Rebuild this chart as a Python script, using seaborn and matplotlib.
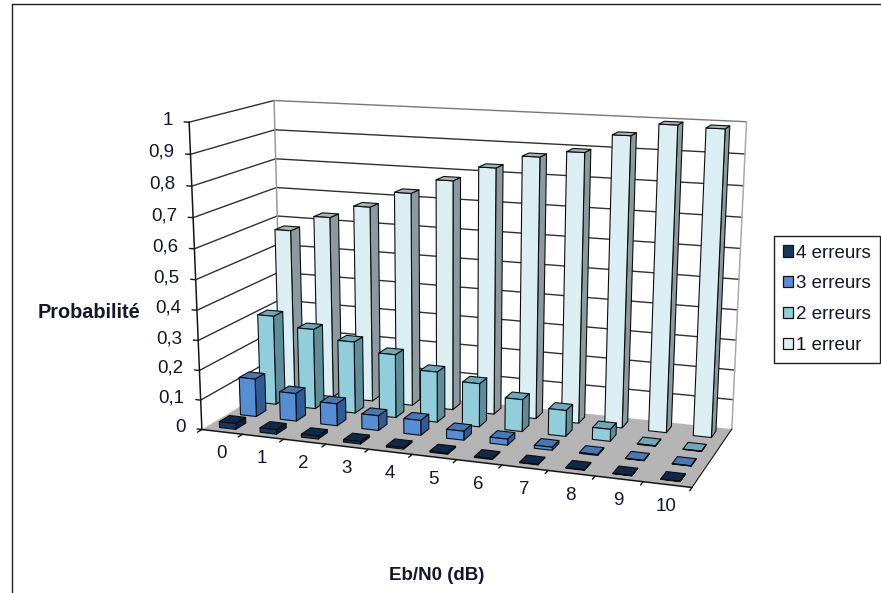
import numpy as np
import matplotlib
matplotlib.use("Agg")
import matplotlib.pyplot as plt
from matplotlib.lines import Line2D
from matplotlib.patches import Patch
from mpl_toolkits.mplot3d.art3d import Poly3DCollection
import seaborn as sns

# ---- data -------------------------------------------------------------
categories = ["0", "1", "2", "3", "4", "5", "6", "7", "8", "9", "10"]
err1 = [0.575, 0.63, 0.675, 0.73, 0.78, 0.83, 0.873, 0.895, 0.955, 0.995, 0.99]
err2 = [0.31, 0.277, 0.247, 0.217, 0.172, 0.147, 0.108, 0.087, 0.04, 0.002, 0.001]
err3 = [0.13, 0.095, 0.075, 0.05, 0.05, 0.03, 0.02, 0.01, 0.003, 0.001, 0.001]
err4 = [0.02, 0.015, 0.01, 0.008, 0.005, 0.004, 0.003, 0.002, 0.002, 0.001, 0.001]
series_names = ["4 erreurs", "3 erreurs", "2 erreurs", "1 erreur"]
series_values = [err4, err3, err2, err1]
z_ticks = [0, 0.1, 0.2, 0.3, 0.4, 0.5, 0.6, 0.7, 0.8, 0.9, 1]
z_labels = ["0", "0,1", "0,2", "0,3", "0,4", "0,5", "0,6", "0,7", "0,8", "0,9", "1"]

# ---- style ------------------------------------------------------------
sns.set_theme(style="white")
plt.rcParams["font.family"] = ["Liberation Sans", "DejaVu Sans"]
W_PX, H_PX = 881, 593
TXT = "#14142c"
FS = 13.5
front = sns.color_palette(["#17375E", "#558ED5", "#92CDDC", "#DBEEF4"])
top = sns.color_palette(["#10294A", "#4877B5", "#6FA9B8", "#A3B6BB"])
side = sns.color_palette(["#0D2040", "#2F5C96", "#5C8D99", "#8A9A9E"])
FLOOR = "#B4B4B4"
BAR_W = 0.40
BAR_D = 0.48

# ---- perspective of the chart box (x cells, y series cells, z value) ---
nx, ny = len(categories), len(series_names)
anchors = [
    ((0, 0, 0), (203, 427)), ((0, 0, .2), (200, 369)), ((0, 0, .4), (197, 310)),
    ((0, 0, .5), (195, 280)), ((0, 0, 1), (188, 123)), ((0, ny, 0), (281, 386)),
    ((0, ny, .5), (278, 243)), ((0, ny, 1), (275, 100)), ((nx, 0, 0), (692, 491)),
    ((nx, ny, 0), (732, 427)), ((nx, ny, .2), (734, 368)), ((nx, ny, .5), (739, 279)),
    ((nx, ny, 1), (747, 123)),
]
rows, rhs = [], []
for (x, y, z), (u, v) in anchors:
    rows.append([x, y, z, 1, 0, 0, 0, 0, -u * x, -u * y, -u * z]); rhs.append(u)
    rows.append([0, 0, 0, 0, x, y, z, 1, -v * x, -v * y, -v * z]); rhs.append(v)
sol = np.linalg.lstsq(np.array(rows, float), np.array(rhs, float), rcond=None)[0]
P = np.append(sol, 1.0).reshape(3, 4)


def to_px(x, y, z):
    h = P @ np.array([x, y, z, 1.0])
    return h[0] / h[2], h[1] / h[2]


fig = plt.figure(figsize=(W_PX / 100, H_PX / 100), dpi=100, facecolor="white")
ax = fig.add_axes([0, -(W_PX - H_PX) / 2 / H_PX, 1, W_PX / H_PX], projection="3d",
                  computed_zorder=False)
ax.set_axis_off()
ax.patch.set_alpha(0)


def fixed_proj():
    ax.apply_aspect()
    F = np.array([[1, 0, 0], [0, -1, H_PX], [0, 0, 1.0]])
    Q = ax.transData.inverted().get_matrix() @ F @ P
    depth = np.array([-0.01, 0.05, -0.01, -1.0])
    return np.vstack([Q[0], Q[1], depth, Q[2]])


ax.get_proj = fixed_proj

# floor
ax.add_collection3d(Poly3DCollection([[(0, 0, 0), (nx, 0, 0), (nx, ny, 0), (0, ny, 0)]],
                                     facecolors=FLOOR, edgecolors="none", zorder=1))
# grid
GRID = "#303030"
for z in z_ticks:
    if z == 0:
        continue
    c = "#777777" if z == 1 else GRID
    ax.plot([0, 0], [0, ny], [z, z], color=GRID, lw=1.0, zorder=2)
    ax.plot([0, nx], [ny, ny], [z, z], color=c, lw=1.0, zorder=2)
ax.plot([0, 0], [ny, ny], [0, 1], color="#999999", lw=1.1, zorder=2)
ax.plot([nx, nx], [ny, ny], [0, 1], color="#aaaaaa", lw=1.1, zorder=2)
# axes lines
AX = "#151515"
ax.plot([0, 0], [0, 0], [0, 1], color=AX, lw=1.1, zorder=2)
ax.plot([0, nx], [0, 0], [0, 0], color=AX, lw=1.1, zorder=50)
ax.plot([nx, nx], [0, ny], [0, 0], color=AX, lw=0.8, zorder=2)
for z in z_ticks:
    ax.plot([0, -0.12], [0, 0], [z, z], color=AX, lw=1.0, zorder=2)
for i in range(nx + 1):
    ax.plot([i, i], [0, -0.2], [0, 0], color=AX, lw=1.0, zorder=2)

# bars
clear = (0, 0, 0, 0)
ink = (0.05, 0.05, 0.05, 1)
zo = 10
for s in range(ny - 1, -1, -1):
    for i, v in enumerate(series_values[s]):
        # faces: bottom, top, front, back, left, right
        faces = [clear, top[s], front[s], clear, clear, side[s]]
        edges = [clear, ink, ink, clear, clear, ink]
        ax.bar3d(i + (1 - BAR_W) / 2, s + (1 - BAR_D) / 2, 0, BAR_W, BAR_D, v,
                 color=faces, edgecolor=edges, linewidth=0.8, shade=False, zorder=zo)
        zo += 1

# tick labels and titles
def put(px, py, s, **kw):
    kw.setdefault("fontsize", FS)
    fig.text(px / W_PX, 1 - py / H_PX, s, color=TXT, va="center", **kw)


for z, lab in zip(z_ticks, z_labels):
    u, v = to_px(0, 0, z)
    put(u - 16, v - 2, lab, ha="right")
for i, lab in enumerate(categories):
    u, v = to_px(i + 0.5, 0, 0)
    put(u - 1, v + 22, lab, ha="center")
put(89, 313, "Probabilité", ha="center", fontweight="bold", fontsize=14.3)
put(437, 575, "Eb/N0 (dB)", ha="center", fontweight="bold")

# outer frame
for xs, ys in (([11.5, 11.5], [4, H_PX]), ([11.5, W_PX], [4, 4])):
    fig.add_artist(Line2D(np.array(xs) / W_PX, 1 - np.array(ys) / H_PX, color="#222222", lw=1.0))

# legend
handles = [Patch(facecolor=front[k], edgecolor="#111111", lw=0.9, label=series_names[k])
           for k in range(ny)]
leg = fig.legend(handles=handles, loc="upper left", bbox_to_anchor=(774 / W_PX, 1 - 236 / H_PX),
                 bbox_transform=fig.transFigure, borderaxespad=0, frameon=True, fancybox=False,
                 framealpha=1, edgecolor="#222222", prop={"size": FS}, handlelength=0.53,
                 handleheight=0.53, handletextpad=0.2, labelspacing=0.74, borderpad=0.46,
                 labelcolor=TXT)
leg.get_frame().set_linewidth(1.0)

fig.savefig("out.png", dpi=100)
